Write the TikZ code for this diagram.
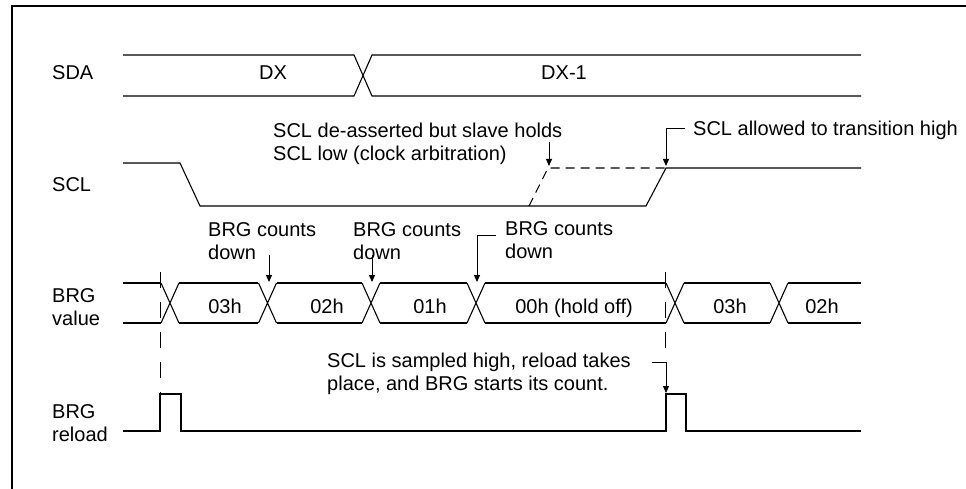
\documentclass[tikz,border=0pt]{standalone}
\usepackage{fontspec}
\setmainfont{Liberation Sans}
\usetikzlibrary{arrows.meta}

\tikzset{
  txt/.style={font=\fontsize{20}{23}\selectfont, inner sep=0pt},
  lbl/.style={txt, align=left, anchor=north west},
  val/.style={txt, anchor=base},
  sig/.style={line width=1.1pt},
  tip/.style={line width=1pt, -{Triangle[length=7pt,width=6pt]}},
  guide/.style={line width=1pt, dash pattern=on 16pt off 14pt},
}

\begin{document}
\begin{tikzpicture}[x=1pt, y=-1pt]
	\useasboundingbox (0,0) rectangle (966,489);
	% frame
	\draw[line width=2.4pt] (12,495) -- (12,6) -- (972,6);
	% signal names
	\node[lbl] (sda) at (52,65) {SDA};
	\node[lbl] (scl) at (52,177) {SCL};
	\node[lbl] (brgval) at (52,288) {BRG\\value};
	\node[lbl] (brgrel) at (52,404) {BRG\\reload};
	% SDA
	\draw[sig] (123,55) -- (354,55) -- (372,96) -- (861,96);
	\draw[sig] (123,96) -- (354,96) -- (372,55) -- (861,55);
	\node[val] (dx) at (273,80) {DX};
	\node[val] (dxm) at (564,80) {DX-1};
	% SCL
	\draw[sig] (123,163) -- (180,163) -- (200,206) -- (646,206) -- (666,168) -- (861,168);
	\draw[sig, dash pattern=on 9pt off 6pt] (529,206) -- (548,168) -- (666,168);
	% BRG value
	\foreach \a/\b in {123/161, 179/258, 277/362, 380/467, 485/666, 684/770, 788/861}
	{\draw[sig] (\a,283) -- (\b,283) (\a,323) -- (\b,323);}
	\foreach \c in {170, 267.5, 371, 476, 675, 779}
	{\draw[sig] (\c-9,283) -- (\c+9,323) (\c-9,323) -- (\c+9,283);}
	\node[val] (vA) at (225,313) {03h};
	\node[val] (vB) at (327,313) {02h};
	\node[val] (vC) at (430,313) {01h};
	\node[val] (vD) at (574,313) {00h (hold off)};
	\node[val] (vE) at (730,313) {03h};
	\node[val] (vF) at (822,313) {02h};
	% BRG reload
	\draw[sig] (123,431) -- (160,431) -- (160,394) -- (181,394) -- (181,431) -- (666,431)
		-- (666,394) -- (686,394) -- (686,431) -- (861,431);
	% guides
	\draw[guide] (160,272) -- (160,394);
	\draw[guide] (665.5,272) -- (665.5,350);
	% notes
	\node[lbl] (hold) at (273,123) {SCL de-asserted but slave holds\\SCL low (clock arbitration)};
	\node[lbl] (high) at (693,121) {SCL allowed to transition high};
	\node[lbl] (cntA) at (208,222) {BRG counts\\down};
	\node[lbl] (cntB) at (353,222) {BRG counts\\down};
	\node[lbl] (cntC) at (505,221) {BRG counts\\down};
	\node[lbl] (smp) at (327,353) {SCL is sampled high, reload takes\\place, and BRG starts its count.};
	\coordinate (holdTip) at (549,166);
	\coordinate (highTip) at (666,166);
	\coordinate (smpTip) at (666,393);
	\coordinate (dnC) at (477,282);
	\draw[tip] ([yshift=24pt]holdTip) -- (holdTip);
	\draw[tip] ([shift={(-8pt,2pt)}]high.west) -| (highTip);
	\foreach \x in {269, 372}
	{\coordinate (dn) at (\x,282);
	 \draw[tip] ([yshift=27pt]dn) -- (dn);}
	\draw[tip] ([shift={(-9pt,-14pt)}]cntC.north west) -| (dnC);
	\draw[tip] ([shift={(21pt,-9pt)}]smp.north east) -| (smpTip);
\end{tikzpicture}
\end{document}
